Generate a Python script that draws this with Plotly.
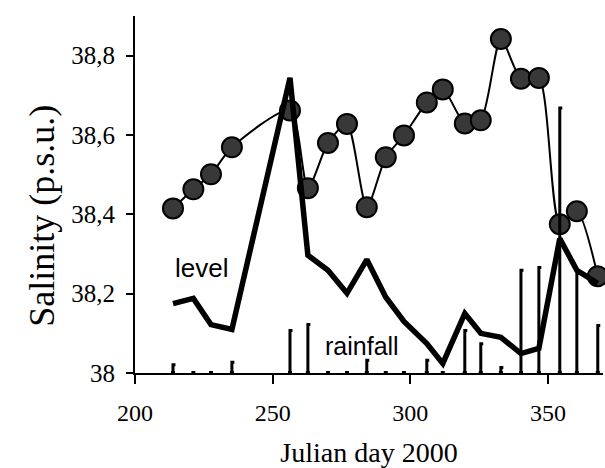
import plotly.graph_objects as go

# Sampling days (Julian day, 2000)
days = [213.8, 221.2, 227.6, 235.2, 256.3, 262.8, 270.1, 277.0, 284.2, 291.1, 297.7,
        306.0, 311.8, 319.8, 325.6, 332.9, 340.2, 346.7, 354.3, 360.5, 368.1]

# Surface salinity (p.s.u.)
salinity = [38.415, 38.463, 38.501, 38.569, 38.662, 38.466, 38.580, 38.628, 38.418,
            38.544, 38.599, 38.682, 38.715, 38.629, 38.637, 38.842, 38.742, 38.744,
            38.375, 38.408, 38.244]

# Water level and rainfall, on a secondary (unlabelled) scale
level = [17.5, 18.8, 12.2, 11.0, 74.4, 29.7, 25.9, 20.1, 28.6, 19.1, 13.0,
         7.4, 2.4, 15.0, 10.0, 9.0, 4.9, 6.2, 33.9, 25.9, 22.6]
rainfall = [2.1, 0, 0, 2.7, 10.7, 12.2, 0, 0, 3.2, 0, 0,
            3.2, 0, 10.7, 7.4, 1.4, 25.9, 26.6, 66.8, 25.1, 12.0]

y_ticks = [38, 38.2, 38.4, 38.6, 38.8]
y_tick_labels = ["38", "38,2", "38,4", "38,6", "38,8"]
x_ticks = [200, 250, 300, 350]

serif = "Liberation Serif"
sans = "Liberation Sans"

# Rainfall stems with a short cap on the right of each top
cap = 0.9
rx, ry = [], []
for d, r in zip(days, rainfall):
    if r > 0:
        rx += [d, d, d + cap, None]
        ry += [0, r, r, None]

fig = go.Figure()

fig.add_trace(go.Scatter(
    x=rx, y=ry, yaxis="y2", mode="lines",
    line=dict(color="black", width=3), hoverinfo="skip", showlegend=False,
))
fig.add_trace(go.Scatter(
    x=days, y=[0] * len(days), yaxis="y2", mode="markers",
    marker=dict(symbol="square", size=4, color="black"),
    cliponaxis=False, showlegend=False,
))
fig.add_trace(go.Scatter(
    x=days, y=level, yaxis="y2", mode="lines",
    line=dict(color="black", width=5.5), showlegend=False,
))
fig.add_trace(go.Scatter(
    x=days, y=salinity, mode="lines+markers",
    line=dict(color="black", width=2, shape="spline", smoothing=0.7),
    marker=dict(symbol="circle", size=20, color="#383838",
                line=dict(color="black", width=2)),
    cliponaxis=False, showlegend=False,
))

fig.add_annotation(x=224.3, y=38.264, text="level", showarrow=False,
                   font=dict(family=sans, size=26, color="black"))
fig.add_annotation(x=282.5, y=38.069, text="rainfall", showarrow=False,
                   font=dict(family=sans, size=25, color="black"))

# Vertical axis title
fig.add_annotation(x=-0.199, y=0.44, xref="paper", yref="paper",
                   text="Salinity (p.s.u.)", textangle=-90, showarrow=False,
                   xanchor="center", yanchor="middle",
                   font=dict(family=serif, size=36, color="black"))

fig.update_layout(
    width=605, height=468,
    margin=dict(l=135, r=2, t=16, b=95),
    paper_bgcolor="white", plot_bgcolor="white",
    xaxis=dict(
        range=[200, 370], tickvals=x_ticks, ticks="outside", ticklen=9,
        tickwidth=2, tickcolor="black", showline=True, linewidth=2,
        linecolor="black", showgrid=False, zeroline=False,
        tickfont=dict(family=serif, size=24, color="black"),
        ticklabelstandoff=8,
        title=dict(text="Julian day 2000", standoff=18,
                   font=dict(family=serif, size=28, color="black")),
    ),
    yaxis=dict(
        range=[38, 38.9], tickvals=y_ticks, ticktext=y_tick_labels,
        ticks="outside", ticklen=7, tickwidth=2, tickcolor="black",
        showline=True, linewidth=2, linecolor="black",
        showgrid=False, zeroline=False,
        tickfont=dict(family=serif, size=25, color="black"),
        ticklabelstandoff=6,
    ),
    yaxis2=dict(range=[0, 90], overlaying="y", visible=False),
)

fig.write_html("out.html")
